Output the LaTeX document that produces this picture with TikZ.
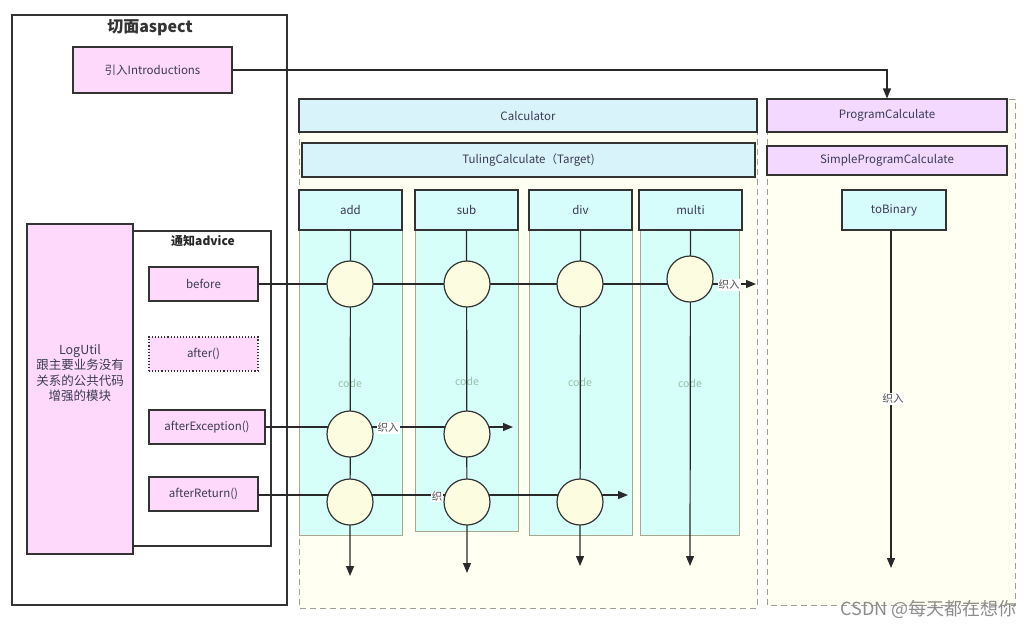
\documentclass[tikz,border=0pt]{standalone}
\usepackage{fontspec}
\setmainfont{Noto Sans CJK SC}
\usetikzlibrary{arrows.meta}
\definecolor{pinkfill}{HTML}{FFD9FB}
\definecolor{violetfill}{HTML}{F3D9FF}
\definecolor{bluefill}{HTML}{D9F3FB}
\definecolor{cyanfill}{HTML}{D6FCFC}
\definecolor{colfill}{HTML}{D6FFFA}
\definecolor{colborder}{HTML}{A8A890}
\definecolor{contfill}{HTML}{FFFFF2}
\definecolor{contborder}{HTML}{A0A090}
\definecolor{circfill}{HTML}{FCFDE0}
\definecolor{boxborder}{HTML}{333333}
\definecolor{txt}{HTML}{3A3A55}
\definecolor{codetxt}{HTML}{98C0A8}
\tikzset{
  box/.style={draw=boxborder, line width=1.1pt, inner sep=0pt, text=txt,
    font=\fontsize{11.5}{13}\selectfont},
  pinkbox/.style={box, fill=pinkfill},
  violetbox/.style={box, fill=violetfill},
  bluebox/.style={box, fill=bluefill},
  cyanbox/.style={box, fill=cyanfill},
  colbody/.style={draw=colborder, line width=0.9pt, fill=colfill},
  container/.style={draw=contborder, line width=1pt, dash pattern=on 6pt off 4pt, fill=contfill},
  framebox/.style={draw=boxborder, line width=1.1pt, fill=white},
  joint/.style={circle, draw=boxborder, line width=1.2pt, fill=circfill, minimum size=46pt, inner sep=0pt},
  conn/.style={draw=boxborder!80!black, line width=1.2pt},
  arr/.style={conn, -{Triangle[length=10pt,width=8pt]}},
  weave/.style={fill=white, inner sep=1pt, text=black!70, font=\fontsize{10.5}{11}\selectfont},
  codelbl/.style={text=codetxt, font=\fontsize{10.5}{11}\selectfont},
  title/.style={font=\bfseries\fontsize{16}{18}\selectfont, text=black!80},
  subtitle/.style={font=\bfseries\fontsize{12}{13}\selectfont, text=black!85},
}
\begin{document}
\begin{tikzpicture}[x=1pt,y=-1pt]
\useasboundingbox[fill=white] (0,0) rectangle (1034,630);

% aspect frame
\node[framebox, minimum width=275pt, minimum height=590pt, inner sep=0pt] (aspect) at (149.5,310) {};
\node[title] (aspecttitle) at (150,28) {切面aspect};
\node[pinkbox, minimum width=159pt, minimum height=46pt] (intro) at (152.5,70) {引入Introductions};

% LogUtil and advice
\node[framebox, minimum width=138pt, minimum height=315pt] (advice) at (202,388.5) {};
\node[pinkbox, minimum width=106pt, minimum height=330pt] (logutil) at (80,389) {};
\node[align=center, text=txt, font=\fontsize{12.5}{15.5}\selectfont] (logtxt) at (80,373)
  {LogUtil\\跟主要业务没有\\关系的公共代码\\增强的模块};
\node[subtitle] (advicetitle) at (203,241) {通知advice};
\node[pinkbox, minimum width=109pt, minimum height=34pt] (before) at (203.5,284) {before};
\node[pinkbox, dotted, line width=1.4pt, minimum width=109pt, minimum height=34pt] (after) at (203.5,354) {after()};
\node[pinkbox, minimum width=116pt, minimum height=34pt] (afterex) at (207,427) {afterException()};
\node[pinkbox, minimum width=109pt, minimum height=34pt] (afterret) at (203.5,494) {afterReturn()};

% Calculator container
\path[container] (299,99) rectangle (757,608);
\node[bluebox, minimum width=458pt, minimum height=33pt] (calc) at (528,115.5) {Calculator};
\node[bluebox, minimum width=453pt, minimum height=34pt] (tuling) at (528.5,160) {TulingCalculate（Target)};

% column bodies
\path[colbody] (299,230) rectangle (402,535);
\path[colbody] (415,230) rectangle (518,531);
\path[colbody] (529,230) rectangle (632,535);
\path[colbody] (640,230) rectangle (739,535);

% headers
\node[cyanbox, minimum width=103pt, minimum height=40pt] (addh) at (350.5,210) {add};
\node[cyanbox, minimum width=103pt, minimum height=40pt] (subh) at (466.5,210) {sub};
\node[cyanbox, minimum width=103pt, minimum height=40pt] (divh) at (580.5,210) {div};
\node[cyanbox, minimum width=103pt, minimum height=40pt] (multih) at (690.5,210) {multi};

% code labels
\node[codelbl] (code1) at (350,383) {code};
\node[codelbl] (code2) at (467,381) {code};
\node[codelbl] (code3) at (580,382) {code};
\node[codelbl] (code4) at (690,383) {code};

% end coordinates
\coordinate (addend) at (350,576);
\coordinate (subend) at (467,573);
\coordinate (divend) at (580,566);
\coordinate (multiend) at (690,566);
\coordinate (beforeend) at (756,284);
\coordinate (exend) at (513,427);
\coordinate (retend) at (628,495);

% vertical flows
\draw[arr] (addh.south) -- (addend);
\draw[arr] (subh.south) -- (subend);
\draw[arr] (divh.south) -- (divend);
\draw[arr] (multih.south) -- (multiend);

% horizontal weaves
\draw[arr] (before.east) -- (beforeend);
\draw[arr] (afterex.east) -- (exend);
\draw[arr] (afterret.east |- retend) -- (retend);

% joints
\node[joint] (b1) at (350,284) {};
\node[joint] (b2) at (467,284) {};
\node[joint] (b3) at (580,284) {};
\node[joint] (b4) at (690,279) {};
\node[joint] (e1) at (350,434) {};
\node[joint] (e2) at (467,434) {};
\node[joint] (r1) at (350,502) {};
\node[joint] (r2) at (467,502) {};
\node[joint] (r3) at (580,502) {};

% weave labels
\node[weave] (w1) at (729,285) {织入};
\node[weave] (w2) at (388,428) {织入};
\node[weave, inner sep=0.5pt] (w3) at (437,497) {织};

% right container
\path[container] (767,99) rectangle (1015,605);
\node[violetbox, minimum width=240pt, minimum height=33pt] (prog) at (887,115.5) {ProgramCalculate};
\node[violetbox, minimum width=240pt, minimum height=29pt] (simple) at (887,160.5) {SimpleProgramCalculate};
\node[cyanbox, minimum width=104pt, minimum height=40pt] (tobin) at (894,210) {toBinary};
\coordinate (tobinend) at (891,568);
\draw[arr] (tobin.south -| tobinend) -- (tobinend);
\node[weave] (w4) at (893,399) {织入};

% introduction arrow
\draw[arr] (intro.east) -| (prog.north);

% watermark
\node[text=black!45, font=\fontsize{18}{20}\selectfont, anchor=east] (wm) at (1020,609) {CSDN @每天都在想你};
\end{tikzpicture}
\end{document}
